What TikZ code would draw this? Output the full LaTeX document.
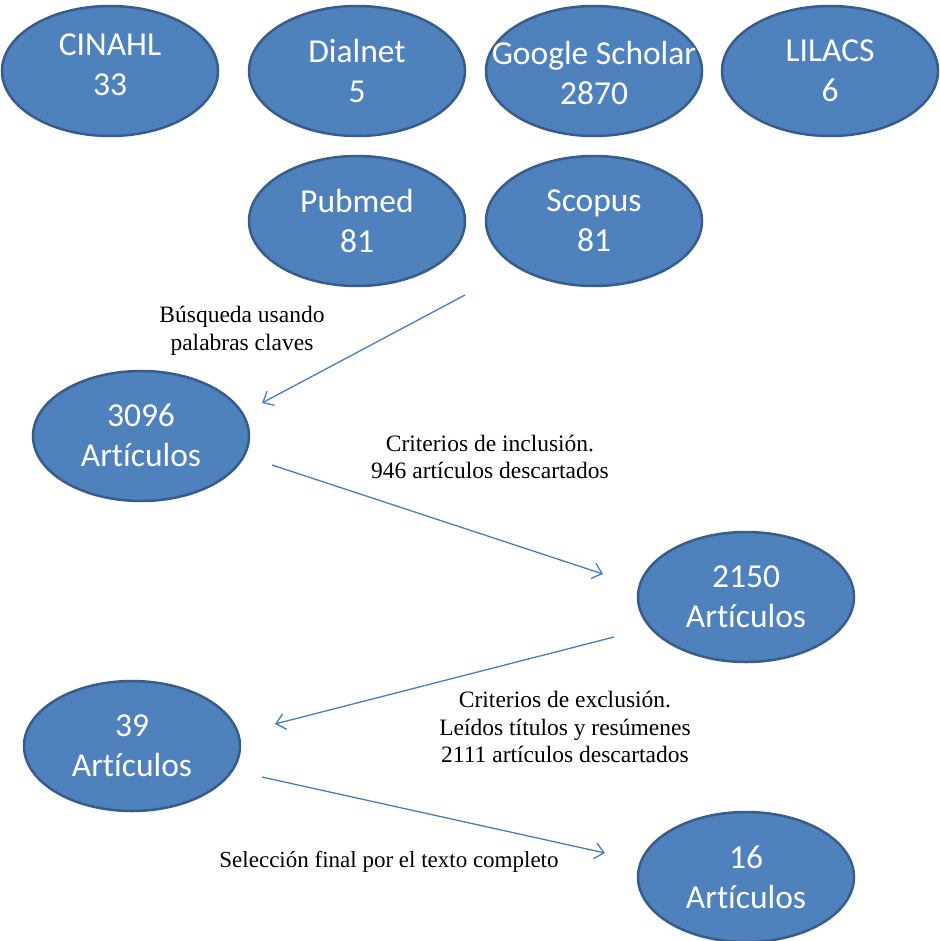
\documentclass[tikz,border=0pt]{standalone}
\usepackage{fontspec}
\setmainfont{Liberation Serif}
\newfontfamily\dbfont{Carlito}[Ligatures=NoCommon]
\usetikzlibrary{shapes.geometric,arrows.meta}
\definecolor{fillc}{HTML}{4F81BD}
\definecolor{bordc}{HTML}{385D8A}
\definecolor{arrc}{HTML}{4A7EBB}
\begin{document}
\begin{tikzpicture}[x=1pt,y=-1pt,
  db/.style={ellipse, draw=bordc, fill=fillc, line width=2.5pt, minimum width=216pt, minimum height=130pt, inner sep=0pt},
  dbt/.style={text=white, font={\dbfont\fontsize{33.5}{40}\selectfont}, align=center, inner sep=0pt},
  lbl/.style={text=black, font={\fontsize{23.5}{27.5}\selectfont}, align=center, inner sep=0pt},
  arr/.style={draw=arrc, line width=1.3pt, -{Straight Barb[length=9pt,width=16pt,line width=1.3pt]}}]
\useasboundingbox (0,0) rectangle (939,941);
\fill[white] (0,0) rectangle (939,941);
% databases
\node[db] (cinahl) at (110,71) {};
\node[dbt] (cinahlT) at (110,65) {CINAHL\\33};
\node[db] (dialnet) at (357,71) {};
\node[dbt] (dialnetT) at (357,71) {Dialnet\\5};
\node[db] (gs) at (594,71) {};
\node[dbt] (gsT) at (594,73) {Google Scholar\\2870};
\node[db] (lilacs) at (830,71) {};
\node[dbt] (lilacsT) at (830,71) {LILACS\\6};
\node[db] (pubmed) at (357,221) {};
\node[dbt] (pubmedT) at (357,221) {Pubmed\\81};
\node[db] (scopus) at (594,221) {};
\node[dbt] (scopusT) at (594,221) {Scopus\\81};
% results
\node[db] (a3096) at (141,436) {};
\node[dbt] (a3096T) at (141,435) {3096\\Artículos};
\node[db] (a2150) at (746,597) {};
\node[dbt] (a2150T) at (746,597) {2150\\Artículos};
\node[db] (a39) at (132,746) {};
\node[dbt] (a39T) at (132,746) {39\\Artículos};
\node[db] (a16) at (746,877) {};
\node[dbt] (a16T) at (746,877) {16\\Artículos};
% connector ends
\coordinate (s1) at (465,295);
\coordinate (e1) at (262,403);
\coordinate (s2) at (272,465);
\coordinate (e2) at (603,574);
\coordinate (s3) at (614,637);
\coordinate (e3) at (275,724);
\coordinate (s4) at (262,777);
\coordinate (e4) at (605,853);
\draw[arr] (s1) -- (e1);
\draw[arr] (s2) -- (e2);
\draw[arr] (s3) -- (e3);
\draw[arr] (s4) -- (e4);
% labels
\node[lbl] (l1) at (242,331) {Búsqueda usando\\palabras claves};
\node[lbl] (l2) at (490,457) {Criterios de inclusión.\\946 artículos descartados};
\node[lbl] (l3) at (565,727) {Criterios de exclusión.\\Leídos títulos y resúmenes\\2111 artículos descartados};
\node[lbl, font={\fontsize{23}{27.5}\selectfont}] (l4) at (389,862) {Selección final por el texto completo};
\end{tikzpicture}
\end{document}
